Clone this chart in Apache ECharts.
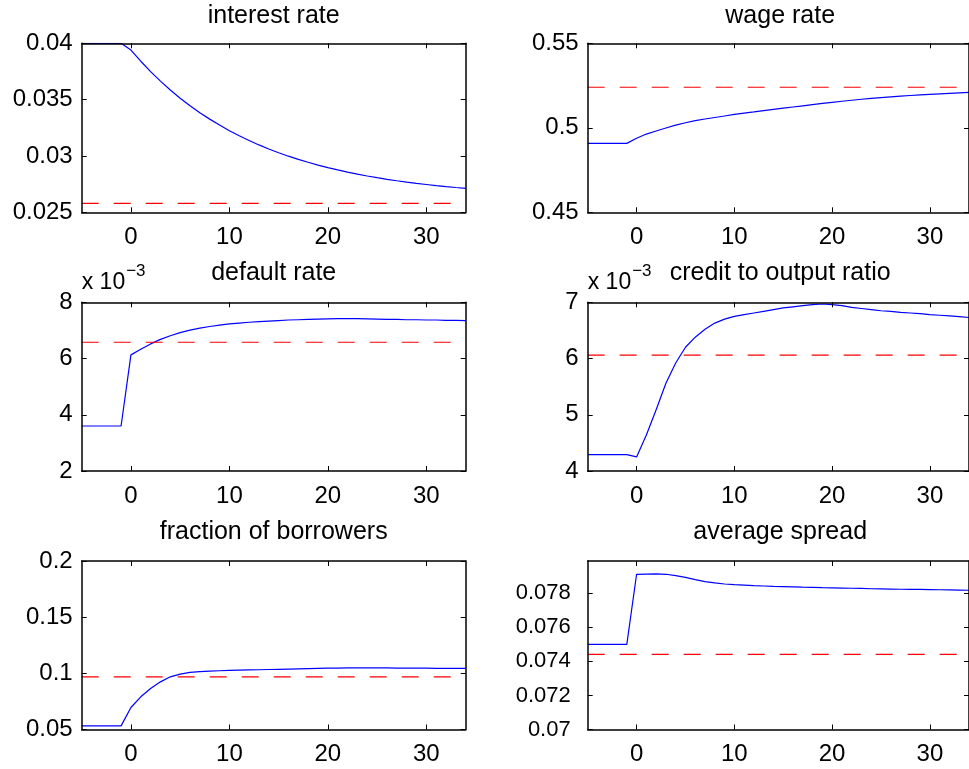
<!DOCTYPE html>
<html><head><meta charset="utf-8">
<script src="https://cdn.jsdelivr.net/npm/echarts@6/dist/echarts.min.js"></script>
<style>html,body{margin:0;padding:0;background:#fff}#c{width:969px;height:769px}</style>
</head><body><div id="c"></div>
<script>
// ---------- data ----------
const periods = [-5,-4,-3,-2,-1,0,1,2,3,4,5,6,7,8,9,10,11,12,13,14,15,16,17,18,19,20,21,22,23,24,25,26,27,28,29,30,31,32,33,34];

const interestRate = [0.0400,0.0400,0.0400,0.0400,0.0400,
  0.03940,0.03841,0.03749,0.03664,0.03586,0.03513,0.03446,0.03384,0.03327,0.03274,0.03224,
  0.03179,0.03137,0.03098,0.03062,0.03029,0.02998,0.02970,0.02944,0.02919,0.02897,
  0.02876,0.02857,0.02839,0.02822,0.02807,0.02793,0.02780,0.02768,0.02757,0.02747,
  0.02737,0.02728,0.02720,0.02713];
const interestSS = 0.0258;

const wageRate = [0.4908,0.4908,0.4908,0.4908,0.4908,
  0.4938,0.4963,0.4981,0.4999,0.5016,0.5030,0.5042,0.5052,0.5061,0.5070,0.5079,
  0.5087,0.5094,0.5102,0.5109,0.5116,0.5123,0.5130,0.5137,0.5144,0.5151,
  0.5157,0.5163,0.5169,0.5174,0.5179,0.5183,0.5187,0.5191,0.5195,0.5198,
  0.5201,0.5204,0.5207,0.5210];
const wageSS = 0.524;

// default rate, in units of 10^-3
const defaultRate = [3.6,3.6,3.6,3.6,3.6,
  6.13,6.33,6.52,6.68,6.81,6.92,7.01,7.08,7.14,7.19,7.23,
  7.26,7.29,7.31,7.33,7.35,7.37,7.38,7.39,7.40,7.41,
  7.42,7.42,7.42,7.41,7.40,7.39,7.39,7.38,7.38,7.37,
  7.37,7.36,7.36,7.35];
const defaultSS = 6.58;

// credit to output ratio, in units of 10^-3
const creditRatio = [4.29,4.29,4.29,4.29,4.29,
  4.25,4.64,5.09,5.56,5.92,6.20,6.38,6.52,6.63,6.70,6.75,
  6.78,6.81,6.84,6.87,6.90,6.92,6.94,6.96,6.97,6.96,
  6.94,6.91,6.89,6.87,6.85,6.84,6.82,6.81,6.80,6.78,
  6.77,6.76,6.745,6.73];
const creditSS = 6.06;

const borrowers = [0.0532,0.0532,0.0532,0.0532,0.0532,
  0.0696,0.0791,0.0865,0.0924,0.0969,0.0993,0.1008,0.1015,0.1020,0.1023,0.1026,
  0.1028,0.1030,0.1032,0.1034,0.1036,0.1038,0.1040,0.1042,0.1044,0.1046,
  0.1047,0.1048,0.1048,0.1048,0.1048,0.1048,0.1047,0.1047,0.1046,0.1046,
  0.1045,0.1045,0.1044,0.1044];
const borrowersSS = 0.0969;

const spread = [0.0750,0.0750,0.0750,0.0750,0.0750,
  0.07912,0.07913,0.07914,0.07912,0.07904,0.07894,0.07881,0.07869,0.07861,0.07855,0.07851,
  0.07848,0.07845,0.07843,0.07841,0.07840,0.07838,0.07836,0.07835,0.07833,0.07832,
  0.07831,0.07830,0.07829,0.07827,0.07826,0.07825,0.07824,0.07823,0.07823,0.07822,
  0.07821,0.07820,0.07819,0.07818];
const spreadSS = 0.07441;

const xTicks = [0, 10, 20, 30];
const interestTicks = [0.025, 0.03, 0.035, 0.04];
const wageTicks = [0.45, 0.5, 0.55];
const defaultTicks = [2, 4, 6, 8];
const creditTicks = [4, 5, 6, 7];
const borrowersTicks = [0.05, 0.1, 0.15, 0.2];
const spreadTicks = [0.07, 0.072, 0.074, 0.076, 0.078];

const titles = ['interest rate', 'wage rate', 'default rate', 'credit to output ratio', 'fraction of borrowers', 'average spread'];
const exponentText = ['x 10', '\u22123'];

// ---------- layout ----------
const FONT = 'Liberation Sans, Arial, Helvetica, sans-serif';
const colLeft = [81.7, 587.7];
const colWidth = [384, 385];
const rowTop = [43.3, 302.3, 561];
const rowHeight = [169, 168.7, 168.5];
const titleY = [16.3, 273.6, 532.3];

const panels = [
  {data: interestRate, ss: interestSS, min: 0.025, max: 0.04, ticks: interestTicks, exp: false, margin: 9, fs: 24},
  {data: wageRate, ss: wageSS, min: 0.45, max: 0.55, ticks: wageTicks, exp: false, margin: 9, fs: 24},
  {data: defaultRate, ss: defaultSS, min: 2, max: 8, ticks: defaultTicks, exp: true, margin: 9, fs: 24},
  {data: creditRatio, ss: creditSS, min: 4, max: 7, ticks: creditTicks, exp: true, margin: 9, fs: 24},
  {data: borrowers, ss: borrowersSS, min: 0.05, max: 0.2, ticks: borrowersTicks, exp: false, margin: 9, fs: 24},
  {data: spread, ss: spreadSS, min: 0.07, max: 0.0799, ticks: spreadTicks, exp: false, margin: 17, fs: 22}
];

const grid = [], xAxis = [], yAxis = [], series = [], graphic = [];
const axisLine = {show: true, onZero: false, lineStyle: {color: '#000', width: 1.5}};
const tickStyle = {color: '#000', width: 1};
const labelStyle = {color: '#000', fontSize: 24, fontFamily: FONT};

const mc = document.createElement('canvas').getContext('2d');

panels.forEach((p, i) => {
  const col = i % 2, row = Math.floor(i / 2);
  const L = colLeft[col], T = rowTop[row], W = colWidth[col], H = rowHeight[row];
  grid.push({left: L, top: T, width: W, height: H, containLabel: false});
  xAxis.push({type: 'value', gridIndex: i, min: periods[0], max: periods[periods.length - 1], position: 'bottom', z: 5,
    axisLine, splitLine: {show: false},
    axisTick: {show: true, inside: true, length: 5, customValues: xTicks, lineStyle: tickStyle},
    axisLabel: Object.assign({show: true, margin: 13, customValues: xTicks}, labelStyle)});
  xAxis.push({type: 'value', gridIndex: i, min: periods[0], max: periods[periods.length - 1], position: 'top', z: 5,
    axisLine, splitLine: {show: false},
    axisTick: {show: true, inside: true, length: 5, customValues: xTicks, lineStyle: tickStyle},
    axisLabel: {show: false}});
  yAxis.push({type: 'value', gridIndex: i, min: p.min, max: p.max, position: 'left', z: 5,
    axisLine, splitLine: {show: false},
    axisTick: {show: true, inside: true, length: 5, customValues: p.ticks, lineStyle: tickStyle},
    axisLabel: Object.assign({show: true, customValues: p.ticks}, labelStyle, {margin: p.margin, fontSize: p.fs})});
  yAxis.push({type: 'value', gridIndex: i, min: p.min, max: p.max, position: 'right', z: 5,
    axisLine, splitLine: {show: false},
    axisTick: {show: true, inside: true, length: 5, customValues: p.ticks, lineStyle: tickStyle},
    axisLabel: {show: false}});
  series.push({type: 'line', xAxisIndex: 2 * i, yAxisIndex: 2 * i, z: 2, symbol: 'none', clip: true,
    data: periods.map((t, k) => [t, p.data[k]]),
    lineStyle: {color: '#0000ff', width: 1.2}});
  series.push({type: 'line', xAxisIndex: 2 * i, yAxisIndex: 2 * i, z: 2, symbol: 'none', clip: true,
    data: [[periods[0], p.ss], [periods[periods.length - 1], p.ss]],
    lineStyle: {color: '#ff0000', width: 1.2, type: [17, 15]}});
  graphic.push({type: 'text', x: L + W / 2, y: titleY[row], z: 10,
    style: {text: titles[i], fill: '#000', font: '25px ' + FONT, textAlign: 'center', textVerticalAlign: 'middle'}});
  if (p.exp) {
    mc.font = '23px ' + FONT;
    const w = mc.measureText(exponentText[0]).width;
    graphic.push({type: 'text', x: L, y: 283, z: 10,
      style: {text: exponentText[0], fill: '#000', font: '23px ' + FONT, textAlign: 'left', textVerticalAlign: 'middle'}});
    graphic.push({type: 'text', x: L + w + 1, y: 271, z: 10,
      style: {text: exponentText[1], fill: '#000', font: '17px ' + FONT, textAlign: 'left', textVerticalAlign: 'middle'}});
  }
});

const chart = echarts.init(document.getElementById('c'), null, {renderer: 'canvas'});
chart.setOption({animation: false, backgroundColor: '#fff', grid, xAxis, yAxis, series, graphic});
</script></body></html>
